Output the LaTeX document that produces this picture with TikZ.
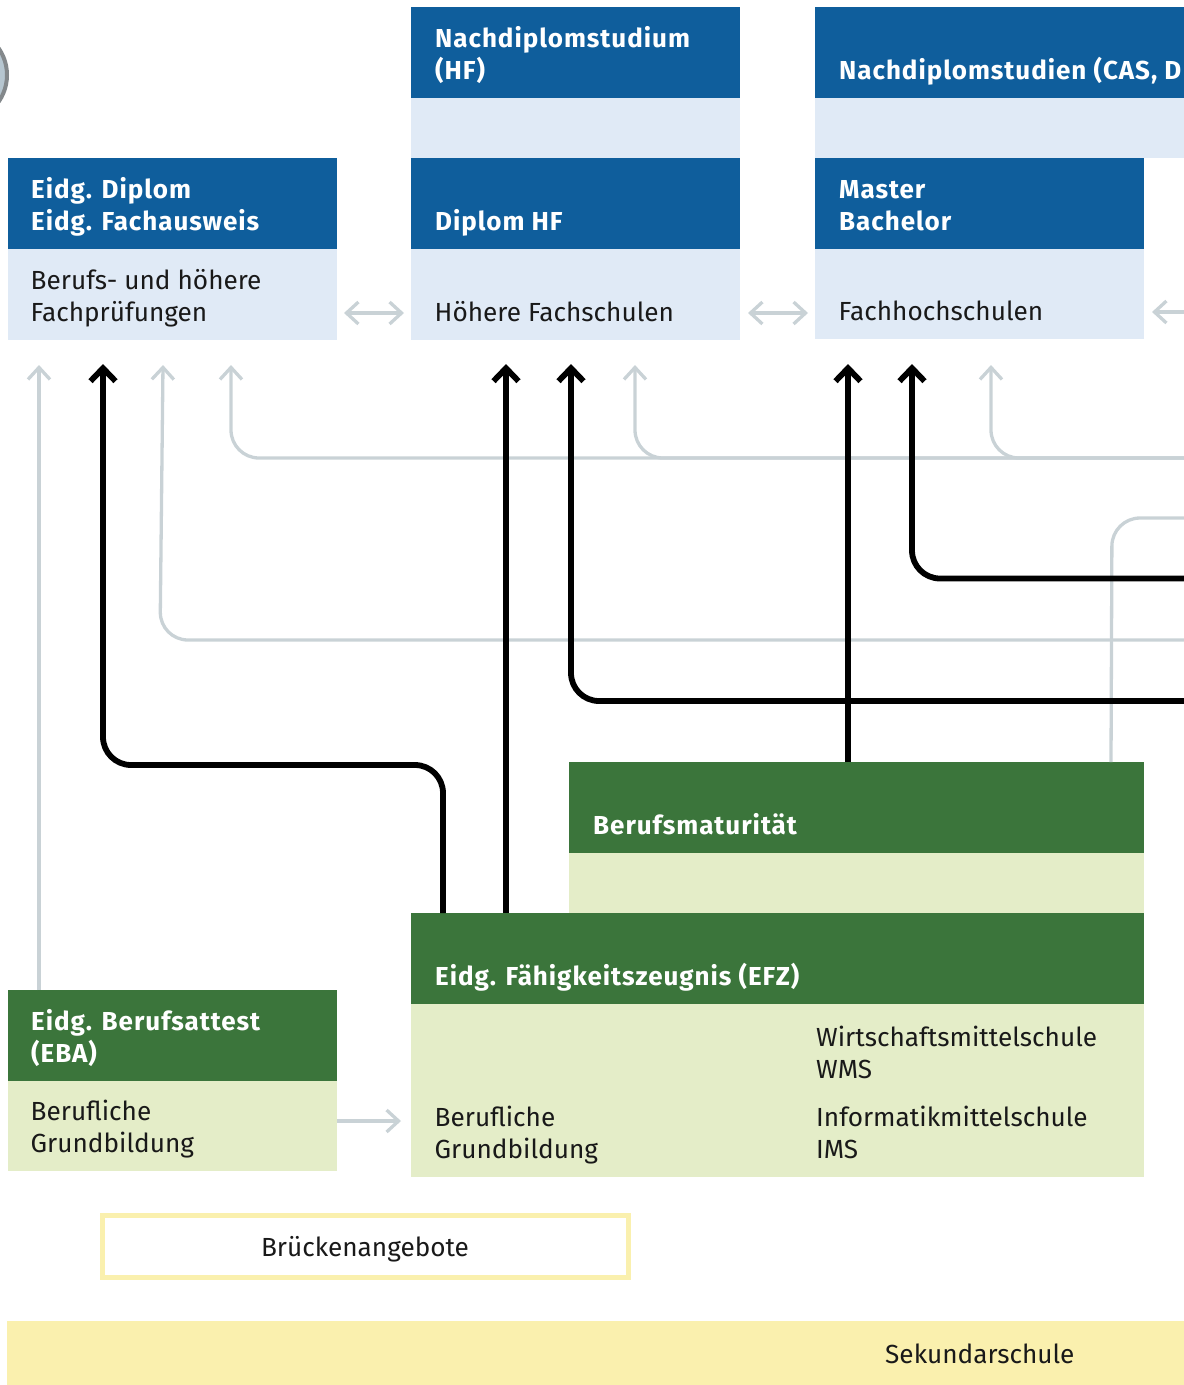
\documentclass[tikz,border=0pt]{standalone}
\usepackage{fontspec}
\setmainfont{Fira Sans}
\usetikzlibrary{arrows.meta}
\definecolor{bfsblau}{RGB}{15,94,156}
\definecolor{bfshell}{RGB}{224,234,246}
\definecolor{bfsgruen}{RGB}{59,117,59}
\definecolor{bfsmatt}{RGB}{228,237,200}
\definecolor{bfsgelb}{RGB}{250,240,174}
\definecolor{bfsgrau}{RGB}{201,210,214}
\tikzset{
  feld/.style={anchor=north west,inner sep=0pt,outer sep=0pt},
  blaukopf/.style={feld,fill=bfsblau,minimum height=91pt},
  gruenkopf/.style={feld,fill=bfsgruen,minimum height=91pt},
  blaugrund/.style={feld,fill=bfshell},
  gruengrund/.style={feld,fill=bfsmatt},
  kopftext/.style={anchor=base west,inner sep=0pt,align=left,text=white,font=\fontsize{26}{32}\selectfont\bfseries\addfontfeature{LetterSpace=3.7}},
  grundtext/.style={anchor=base west,inner sep=0pt,align=left,text=black!90,font=\fontsize{26.2}{32}\selectfont},
  grau/.style={draw=bfsgrau,line width=3.3pt,rounded corners=28pt,-{Straight Barb[length=12pt,width=22pt]}},
  grauzwei/.style={grau,{Straight Barb[length=12pt,width=22pt]}-{Straight Barb[length=12pt,width=22pt]}},
  schwarz/.style={draw=black,line width=5.8pt,rounded corners=28pt,-{Straight Barb[length=13pt,width=25pt]}},
}
\begin{document}
\begin{tikzpicture}[x=1pt,y=-1pt]
  \useasboundingbox (0,0) rectangle (1184,1385);
  \clip (0,0) rectangle (1184,1385);
  % kugel oben links
  \node[circle,minimum size=94pt,inner sep=0pt,fill=bfsgrau!90!bfsblau,draw=black!35!bfsgrau,line width=4pt] (kugel) at (-40,75) {};
  % tertiaer
  \node[blaukopf,minimum width=329pt] (nhfkopf) at (411,7) {};
  \node[blaugrund,minimum width=329pt,minimum height=60pt] (nhfgrund) at (411,98) {};
  \node[kopftext] (nhftext) at (435,79) {Nachdiplomstudium\\(HF)};
  \node[blaukopf,minimum width=380pt] (ncaskopf) at (815,7) {};
  \node[blaugrund,minimum width=380pt,minimum height=60pt] (ncasgrund) at (815,98) {};
  \node[kopftext] (ncastext) at (839,79) {Nachdiplomstudien (CAS, D};
  \node[blaukopf,minimum width=329pt] (dipkopf) at (8,158) {};
  \node[blaugrund,minimum width=329pt,minimum height=91pt] (dipgrund) at (8,249) {};
  \node[kopftext] (diptext) at (31,230) {Eidg. Diplom\\Eidg. Fachausweis};
  \node[grundtext] (dipname) at (30.5,321) {Berufs- und höhere\\Fachprüfungen};
  \node[blaukopf,minimum width=329pt] (hfkopf) at (411,158) {};
  \node[blaugrund,minimum width=329pt,minimum height=91pt] (hfgrund) at (411,249) {};
  \node[kopftext] (hftext) at (435,230) {Diplom HF};
  \node[grundtext] (hfname) at (434.5,321) {Höhere Fachschulen};
  \node[blaukopf,minimum width=329pt] (fhkopf) at (815,158) {};
  \node[blaugrund,minimum width=329pt,minimum height=90pt] (fhgrund) at (815,249) {};
  \node[kopftext] (fhtext) at (839,230) {Master\\Bachelor};
  \node[grundtext] (fhname) at (838.5,320) {Fachhochschulen};
  % sekundarstufe II
  \node[gruenkopf,minimum width=575pt] (bmkopf) at (569,762) {};
  \node[gruengrund,minimum width=575pt,minimum height=60pt] (bmgrund) at (569,853) {};
  \node[kopftext] (bmtext) at (593,834) {Berufsmaturität};
  \node[gruenkopf,minimum width=733pt] (efzkopf) at (411,913) {};
  \node[gruengrund,minimum width=733pt,minimum height=173pt] (efzgrund) at (411,1004) {};
  \node[kopftext] (efztext) at (435,985) {Eidg. Fähigkeitszeugnis (EFZ)};
  \node[grundtext] (efzname) at (434.5,1158) {Berufliche\\Grundbildung};
  \node[grundtext] (wms) at (816,1078) {Wirtschaftsmittelschule\\WMS};
  \node[grundtext] (ims) at (816,1158) {Informatikmittelschule\\IMS};
  \node[gruenkopf,minimum width=329pt] (ebakopf) at (8,990) {};
  \node[gruengrund,minimum width=329pt,minimum height=90pt] (ebagrund) at (8,1081) {};
  \node[kopftext] (ebatext) at (31,1062) {Eidg. Berufsattest\\(EBA)};
  \node[grundtext] (ebaname) at (30.5,1152) {Berufliche\\Grundbildung};
  % unten
  \node[feld,draw=bfsgelb,line width=5pt,fill=white,minimum width=526pt,minimum height=62pt] (bruecke) at (102.5,1215.5) {};
  \node[grundtext,anchor=base] (brueckename) at (365,1256) {Brückenangebote};
  \node[feld,fill=bfsgelb,minimum width=1180pt,minimum height=64pt] (sek) at (7,1321) {};
  \node[grundtext] (sekname) at (885,1363) {Sekundarschule};
  % pfeilenden
  \coordinate (ga) at (39,365);
  \coordinate (gb) at (163,365);
  \coordinate (gc) at (231,365);
  \coordinate (gd) at (635,365);
  \coordinate (ge) at (991,365);
  \coordinate (ba) at (103,364);
  \coordinate (bb) at (506,364);
  \coordinate (bc) at (571,364);
  \coordinate (bd) at (848,364);
  \coordinate (be) at (912,364);
  \coordinate (rechtsa) at (1190,458);
  \coordinate (rechtsb) at (1190,518);
  \coordinate (rechtsc) at (1190,578.5);
  \coordinate (rechtsd) at (1190,640);
  \coordinate (rechtse) at (1190,701);
  \coordinate (fhpfeil) at (1190,312);
  % graue pfeile
  \draw[grau] (ebakopf.north -| ga) -- (ga);
  \draw[grau] (rechtsd) -- (160,640) -- (gb);
  \draw[grau] (rechtsa) -- (gc |- rechtsa) -- (gc);
  \draw[grau] (rechtsa) -- (gd |- rechtsa) -- (gd);
  \draw[grau] (rechtsa) -- (ge |- rechtsa) -- (ge);
  \draw[grau,-] (1111,762) -- (1112,518) -- (rechtsb);
  \draw[grau,-] (849.5,762) -- (849.5,385);
  \draw[grauzwei] (344,313) -- (404,313);
  \draw[grauzwei] (748,313) -- (808,313);
  \draw[grau] (fhpfeil) -- (1152,312);
  \draw[grau] (ebagrund.east |- 0,1121) -- (401,1121);
  % schwarze pfeile
  \draw[schwarz] (efzkopf.north -| 443,0) -- (443,765) -- (ba |- 0,765) -- (ba);
  \draw[schwarz] (efzkopf.north -| bb) -- (bb);
  \draw[schwarz] (rechtse) -- (bc |- rechtse) -- (bc);
  \draw[schwarz] (bmkopf.north -| bd) -- (bd);
  \draw[schwarz] (rechtsc) -- (be |- rechtsc) -- (be);
\end{tikzpicture}
\end{document}
